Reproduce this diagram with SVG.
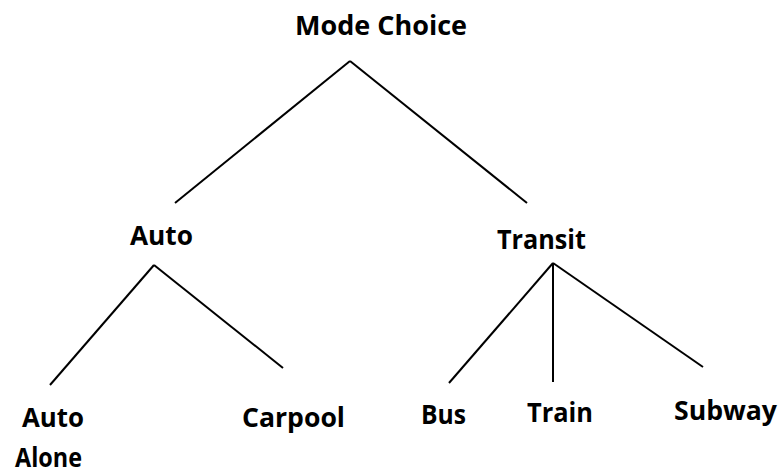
<svg xmlns="http://www.w3.org/2000/svg" width="781" height="475" viewBox="0 0 781 475">
<style>
text{font-family:"Open Sans","Liberation Sans",sans-serif;font-weight:bold;font-size:26.5px;fill:#000}
.c line{stroke:#000;stroke-width:2;stroke-linecap:butt}
</style>
<rect width="781" height="475" fill="#fff"/>
<g class="c" id="connectors">
<line x1="350" y1="61" x2="175" y2="203"/>
<line x1="350" y1="61" x2="527" y2="203"/>
<line x1="154" y1="265" x2="50" y2="385"/>
<line x1="154" y1="265" x2="283" y2="368"/>
<line x1="553" y1="263" x2="449" y2="383"/>
<line x1="553" y1="263" x2="553" y2="382"/>
<line x1="553" y1="263" x2="703" y2="367"/>
</g>
<g id="mode-choice"><text x="295" y="35" textLength="172" lengthAdjust="spacingAndGlyphs">Mode Choice</text></g>
<g id="auto"><text x="130" y="245" textLength="63" lengthAdjust="spacingAndGlyphs">Auto</text></g>
<g id="transit"><text x="497" y="249" textLength="89" lengthAdjust="spacingAndGlyphs">Transit</text></g>
<g id="auto-alone"><text x="22" y="427" textLength="62" lengthAdjust="spacingAndGlyphs">Auto</text><text x="15" y="467" textLength="67" lengthAdjust="spacingAndGlyphs">Alone</text></g>
<g id="carpool"><text x="242" y="427" textLength="103" lengthAdjust="spacingAndGlyphs">Carpool</text></g>
<g id="bus"><text x="421" y="424" textLength="45" lengthAdjust="spacingAndGlyphs">Bus</text></g>
<g id="train"><text x="527" y="422" textLength="66" lengthAdjust="spacingAndGlyphs">Train</text></g>
<g id="subway"><text x="674" y="420" textLength="103" lengthAdjust="spacingAndGlyphs">Subway</text></g>
</svg>
